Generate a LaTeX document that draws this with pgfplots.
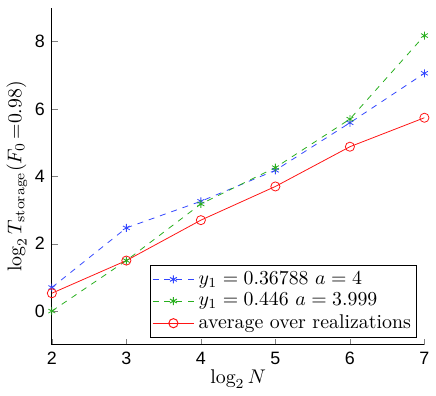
\documentclass[border=0pt]{standalone}
\usepackage{fontspec}
\usepackage{pgfplots}
\pgfplotsset{compat=1.18}
\newfontfamily\arialfont{Liberation Sans}
\definecolor{mblue}{RGB}{50,70,255}
\definecolor{mgreen}{RGB}{40,175,30}
\definecolor{mred}{RGB}{255,20,20}
\begin{document}
\begin{tikzpicture}
\begin{axis}[
  scale only axis,
  width=187.5bp, height=169.5bp,
  xmin=2, xmax=7, ymin=-1, ymax=9,
  xtick={2,3,4,5,6,7}, ytick={0,2,4,6,8},
  axis x line*=bottom, axis y line*=left,
  tick align=inside,
  major tick length=3bp,
  /pgf/number format/assume math mode=true,
  tick label style={font=\arialfont\fontsize{9bp}{10bp}\selectfont},
  label style={font=\fontsize{10bp}{12bp}\selectfont},
  xlabel={$\log_2 N$},
  ylabel={$\log_2 T_{\mathrm{storage}}(F_0\,{=}0.98)$},
  xlabel style={yshift=4bp},
  ylabel style={yshift=-3bp},
  legend style={at={(0.981,0.02)}, anchor=south east, font=\fontsize{10bp}{11bp}\selectfont,
    draw=black, line width=0.5pt, inner sep=1pt, row sep=-1pt, cells={anchor=west}},
  legend cell align=left,
  legend image code/.code={\draw[mark repeat=2,mark phase=2] plot coordinates {(0cm,0cm) (0.37cm,0cm) (0.74cm,0cm)};},
]
\addplot[mblue, dash pattern=on 3bp off 3bp, mark=asterisk, mark size=2bp, mark options={solid}]
  coordinates {(2,0.70) (3,2.47) (4,3.26) (5,4.18) (6,5.59) (7,7.06)};
\addlegendentry{$y_1=0.36788\ a=4$}
\addplot[mgreen, dash pattern=on 3bp off 3bp, mark=asterisk, mark size=2bp, mark options={solid}]
  coordinates {(2,0.0) (3,1.5) (4,3.18) (5,4.26) (6,5.70) (7,8.18)};
\addlegendentry{$y_1=0.446\ a=3.999$}
\addplot[mred, mark=o, mark size=2.3bp]
  coordinates {(2,0.53) (3,1.50) (4,2.70) (5,3.70) (6,4.88) (7,5.74)};
\addlegendentry{average over realizations}
\end{axis}
\path (current axis.north west) ++(0,4bp) coordinate (topmargin);
\end{tikzpicture}
\end{document}
